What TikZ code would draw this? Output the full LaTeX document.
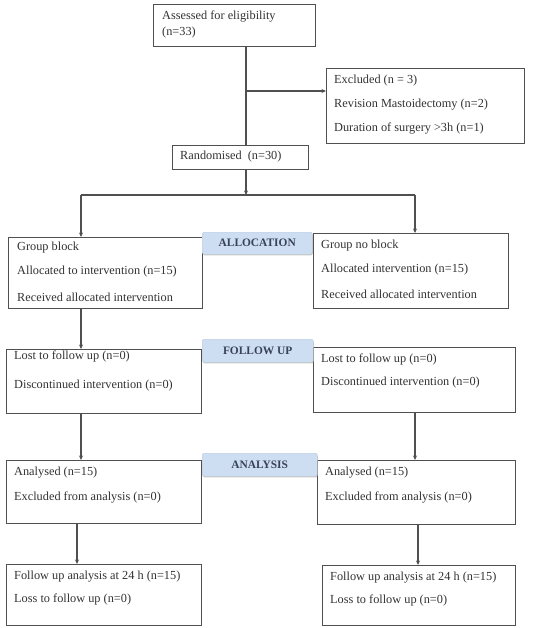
\documentclass[tikz,border=0pt]{standalone}
\usepackage{fontspec}
\setmainfont{Liberation Serif}
\usetikzlibrary{arrows.meta,shadows}
\definecolor{linec}{RGB}{80,80,80}
\definecolor{txtc}{RGB}{50,50,50}
\definecolor{lblfill}{RGB}{206,222,242}
\definecolor{lbltxt}{RGB}{55,65,90}
\tikzset{
  box/.style={draw=linec, line width=1.2pt, anchor=north west, inner sep=0pt},
  txt/.style={anchor=west, inner sep=0pt, text=txtc, font=\fontsize{12.3}{14}\selectfont},
  lbl/.style={anchor=north west, inner sep=0pt, fill=lblfill, draw=lblfill!80!gray, line width=0.4pt,
     rounded corners=1.5pt, text=lbltxt, font=\bfseries\fontsize{11.4}{12}\selectfont,
     drop shadow={shadow xshift=0.6pt, shadow yshift=-1.2pt, fill=gray!70, opacity=0.6}},
  conn/.style={draw=linec, line width=1.2pt},
  arr/.style={conn, -{Stealth[length=4.5pt,width=4pt]}}
}
\newcommand{\boxat}[5]{\node[box, minimum width=#4, minimum height=#5] (#1) at (#2,#3) {};}
\begin{document}
\begin{tikzpicture}[x=1pt,y=-1pt]
\useasboundingbox (0,0) rectangle (538,628);
% boxes (x, y top-left, width, height)
\boxat{assess}{153}{4}{162pt}{42pt}
\node[txt] (assessA) at (162,17) {Assessed for eligibility};
\node[txt] (assessB) at (162,33) {(n=33)};
\boxat{excl}{326}{68}{198pt}{75pt}
\node[txt] (exclA) at (334,81) {Excluded (n = 3)};
\node[txt] (exclB) at (334,105) {Revision Mastoidectomy (n=2)};
\node[txt] (exclC) at (334,128) {Duration of surgery >3h (n=1)};
\boxat{rand}{172}{145}{136pt}{24pt}
\node[txt] (randA) at (180,157) {Randomised\ \ (n=30)};
% allocation
\boxat{allocL}{8}{237}{194pt}{71pt}
\node[txt] (allocLA) at (17,248) {Group block};
\node[txt] (allocLB) at (17,272) {Allocated to intervention (n=15)};
\node[txt] (allocLC) at (17,297) {Received allocated intervention};
\boxat{allocR}{313}{233}{195pt}{75pt}
\node[txt] (allocRA) at (321,246) {Group no block};
\node[txt] (allocRB) at (321,270) {Allocated intervention (n=15)};
\node[txt] (allocRC) at (321,294) {Received allocated intervention};
\node[lbl, minimum width=110pt, minimum height=22pt] (lblalloc) at (202,232) {ALLOCATION};
% follow up
\boxat{folL}{6}{349}{195pt}{64pt}
\node[txt] (folLA) at (14,356) {Lost to follow up (n=0)};
\node[txt] (folLB) at (14,386) {Discontinued intervention (n=0)};
\boxat{folR}{313}{347}{202pt}{65pt}
\node[txt] (folRA) at (321,359) {Lost to follow up (n=0)};
\node[txt] (folRB) at (321,383) {Discontinued intervention (n=0)};
\node[lbl, minimum width=111pt, minimum height=23pt] (lblfol) at (202,339) {FOLLOW UP};
% analysis
\boxat{anaL}{6}{460}{195pt}{63pt}
\node[txt] (anaLA) at (14,473) {Analysed (n=15)};
\node[txt] (anaLB) at (14,497) {Excluded from analysis (n=0)};
\boxat{anaR}{317}{460}{198pt}{64pt}
\node[txt] (anaRA) at (325,473) {Analysed (n=15)};
\node[txt] (anaRB) at (325,497) {Excluded from analysis (n=0)};
\node[lbl, minimum width=115pt, minimum height=23pt] (lblana) at (202,453) {ANALYSIS};
% final
\boxat{finL}{6}{564}{195pt}{61pt}
\node[txt] (finLA) at (14,577) {Follow up analysis at 24 h (n=15)};
\node[txt] (finLB) at (14,599) {Loss to follow up (n=0)};
\boxat{finR}{322}{565}{193pt}{60pt}
\node[txt] (finRA) at (330,578) {Follow up analysis at 24 h (n=15)};
\node[txt] (finRB) at (330,600) {Loss to follow up (n=0)};
% connectors
\coordinate (j1) at (246,91);
\coordinate (split) at (246,195);
\coordinate (sl) at (81,195);
\coordinate (sr) at (415,195);
\coordinate (cl) at (81,0);
\coordinate (cr) at (415,0);
\coordinate (dl) at (77,0);
\coordinate (dr) at (418,0);
\draw[conn] (assess.south -| j1) -- (rand.north -| j1);
\draw[arr] (j1) -- (excl.west |- j1);
\draw[arr] (rand.south -| split) -- (split);
\draw[conn] (sl) -- (sr);
\draw[arr] (sl) -- (allocL.north -| sl);
\draw[arr] (sr) -- (allocR.north -| sr);
\draw[arr] (allocL.south -| cl) -- (folL.north -| cl);
\draw[arr] (folL.south -| cl) -- (anaL.north -| cl);
\draw[arr] (folR.south -| cr) -- (anaR.north -| cr);
\draw[arr] (anaL.south -| dl) -- (finL.north -| dl);
\draw[arr] (anaR.south -| dr) -- (finR.north -| dr);
\end{tikzpicture}
\end{document}
